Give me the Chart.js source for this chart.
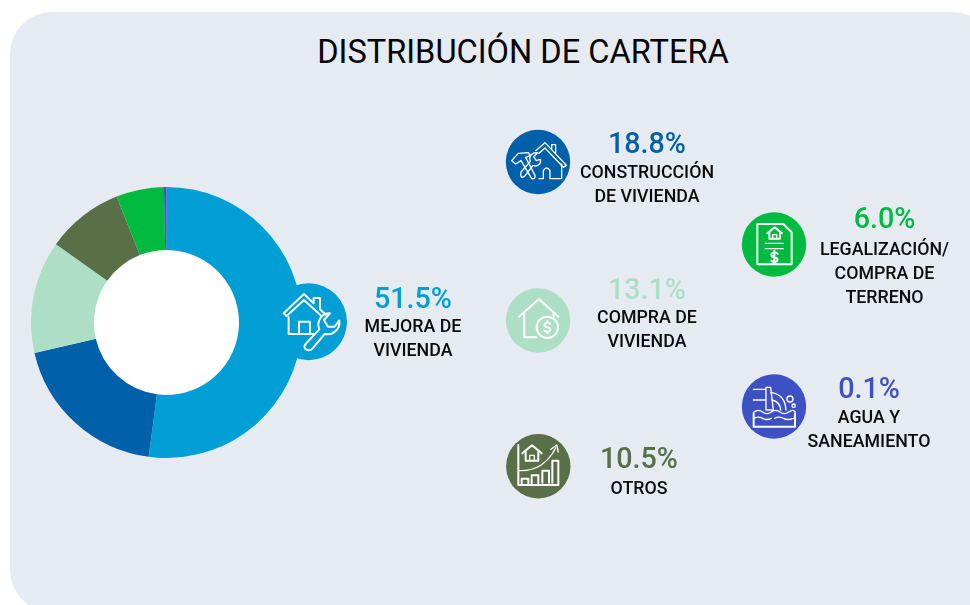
<!DOCTYPE html>
<html lang="es">
<head>
<meta charset="utf-8">
<title>Distribución de cartera</title>
<script src="https://cdn.jsdelivr.net/npm/chart.js@4"></script>
<style>
html,body{margin:0;padding:0;width:970px;height:605px;overflow:hidden;background:#fff;font-family:Roboto,sans-serif;}
#panel{position:absolute;left:10px;top:12px;width:985px;height:600px;border-radius:42px;background:#E6EBF2;}
#title{position:absolute;left:273px;width:500px;top:33px;text-align:center;font-size:32.6px;line-height:38px;font-weight:400;color:#050505;white-space:nowrap;}
#wrap{position:absolute;left:30.5px;top:187.3px;width:271px;height:271px;}
#icons{position:absolute;left:0;top:0;}
.pct,.lab{position:absolute;width:220px;text-align:center;white-space:nowrap;}
.pct{font-size:28.7px;line-height:32px;font-weight:500;}
.lab{font-size:17.8px;line-height:24px;font-weight:500;color:#0b0b0b;}
svg .l{fill:none;stroke:#fff;stroke-width:6;stroke-linejoin:round;stroke-linecap:round;}
svg .t{fill:none;stroke:#fff;stroke-width:4;stroke-linejoin:round;stroke-linecap:round;}
</style>
</head>
<body>
<div id="panel"></div>
<div id="title">DISTRIBUCIÓN DE CARTERA</div>
<div id="wrap"><canvas id="c" width="271" height="271"></canvas></div>
<svg id="icons" width="970" height="605" viewBox="0 0 970 605">
  <circle cx="308.5" cy="321.7" r="38.5" fill="#019FD6"/>
  <circle cx="538" cy="162" r="32.2" fill="#0060A9"/>
  <circle cx="538" cy="320.5" r="32.2" fill="#ACDFC6"/>
  <circle cx="538.3" cy="466.3" r="32.2" fill="#586F48"/>
  <circle cx="774" cy="244.5" r="32.2" fill="#00BB3F"/>
  <circle cx="774" cy="406.5" r="32.2" fill="#3E51C4"/>
  <!-- mejora -->
  <g transform="translate(0,170) scale(0.3333)">
    <path class="l" d="M851 430 L912 372 L941 400 V384 H960 V418 L978 434 M851 430 L860 438 L912 390 L962 436"/>
    <path class="l" d="M866 442 V492 H942 M897 492 V455 H930 V492"/>
    <path class="l" d="M917 522 L958 478 C948 452 966 430 990 430 L972 450 L984 470 L1004 470 L1018 452 C1022 476 1000 498 974 492 L938 535 C926 548 905 535 917 522 Z"/>
  </g>
  <!-- construccion -->
  <g transform="translate(495,120) scale(0.3333)">
    <path class="t" d="M122 92 L150 68 L214 136 L205 142 L150 84 L132 100 M170 88 V74 H182 V100"/>
    <path class="t" d="M200 132 V176 H165 V152 Q155 136 145 152 V176 H132"/>
    <path class="t" d="M50 122 L70 100 L100 98 L106 106 L92 112 L120 166 Q122 178 110 176 L78 122 L62 132 Z"/>
    <path class="t" d="M78 156 L106 124 C100 108 112 96 128 98 L116 110 L124 122 L136 118 C140 132 126 142 114 136 L88 170 Q74 176 78 156 Z"/>
  </g>
  <!-- compra -->
  <g transform="translate(495,120) scale(0.3333)">
    <path class="l" d="M72 590 L132 537 L190 590"/>
    <path class="l" d="M88 578 V652 H124 M176 578 V590"/>
    <circle class="l" cx="157" cy="622" r="32"/>
    <path class="l" d="M166 612 Q157 605 149 612 Q146 620 157 622 Q168 625 165 632 Q157 639 148 632 M157 604 V608 M157 636 V640"/>
  </g>
  <!-- otros -->
  <g transform="translate(495,420) scale(0.3333)">
    <path class="l" d="M70 75 V195 H190 V122 H172 V188"/>
    <path class="l" d="M82 100 L111 76 L140 100 M92 94 V122 H130 V94"/>
    <path class="t" d="M104 122 V106 H118 V122"/>
    <path class="t" d="M72 152 Q145 155 182 84 M168 88 L185 75 L190 96"/>
    <path class="l" d="M80 190 V176 H100 V190 M110 190 V166 H130 V190 M142 188 V152 H162 V188"/>
  </g>
  <!-- legalizacion -->
  <g transform="translate(730,200) scale(0.3333)">
    <path class="l" d="M82 72 H160 L185 97 V193 H82 Z"/>
    <path class="l" d="M112 100 L134 82 L156 100 M118 97 V116 H150 V97"/>
    <path class="t" d="M128 116 V104 H140 V116"/>
    <path class="t" d="M106 130 H160 M106 146 H160"/>
    <path class="l" d="M143 161 Q133 153 125 161 Q121 169 133 172 Q145 175 142 182 Q133 190 124 182 M133 152 V189"/>
  </g>
  <!-- agua -->
  <g transform="translate(730,200) scale(0.3333)">
    <path class="t" d="M70 568 H108 M70 600 H108 M108 562 H122 L130 630 H108 Z"/>
    <path class="t" d="M122 578 Q165 582 168 630 M126 600 Q150 605 152 630"/>
    <circle class="t" cx="180" cy="597" r="9"/>
    <circle class="t" cx="191" cy="617" r="5"/>
    <path class="t" d="M72 636 Q85 626 98 636 T124 636 T150 636 T176 636 T196 636"/>
    <path class="t" d="M72 655 Q85 648 98 655 T124 655 M134 655 Q147 648 160 655 T190 655"/>
    <path class="l" d="M71 640 V680 H195 V640"/>
  </g>
</svg>
<script>
const categories = ["Mejora de vivienda","Construcción de vivienda","Compra de vivienda","Otros","Legalización/compra de terreno","Agua y saneamiento"];
// Percentages as printed beside each icon.
const printedValues = [51.5, 18.8, 13.1, 10.5, 6.0, 0.1];
// Slice sizes as read from the drawn ring (they differ slightly from the printed figures).
const sliceValues = [52.1, 19.3, 13.4, 9.2, 5.7, 0.3];
const colors = ["#019FD6","#0060A9","#ACDFC6","#586F48","#00BB3F","#3E51C4"];
const labelLines = [
  ["MEJORA DE","VIVIENDA"],
  ["CONSTRUCCIÓN","DE VIVIENDA"],
  ["COMPRA DE","VIVIENDA"],
  ["OTROS"],
  ["LEGALIZACIÓN/","COMPRA DE","TERRENO"],
  ["AGUA Y","SANEAMIENTO"]
];
const textCenterX = [413, 647, 647, 639, 884.5, 869];
const pctCenterY = [298, 143, 289, 458, 218, 388];
const firstLineY = [325.5, 171.5, 316.5, 487.5, 248.5, 416.5];

function addText(cls, txt, cx, cy, color){
  const d = document.createElement('div');
  d.className = cls;
  d.textContent = txt;
  d.style.left = (cx - 110) + 'px';
  d.style.top = (cy - (cls === 'pct' ? 16 : 12)) + 'px';
  if (color) d.style.color = color;
  document.body.appendChild(d);
}
categories.forEach((_, i) => {
  addText('pct', printedValues[i].toFixed(1) + '%', textCenterX[i], pctCenterY[i], colors[i]);
  labelLines[i].forEach((ln, j) => addText('lab', ln, textCenterX[i], firstLineY[i] + j * 24.4));
});

const holeFill = {
  id: 'holeFill',
  beforeDatasetsDraw(chart){
    const a = chart.getDatasetMeta(0).data[0];
    const {ctx} = chart;
    ctx.save();
    ctx.fillStyle = '#fff';
    ctx.beginPath();
    ctx.arc(a.x, a.y, a.innerRadius + 1, 0, Math.PI * 2);
    ctx.fill();
    ctx.restore();
  }
};
new Chart(document.getElementById('c'), {
  type: 'doughnut',
  data: { labels: categories, datasets: [{ data: sliceValues, backgroundColor: colors, borderWidth: 0 }] },
  options: {
    responsive: false,
    animation: false,
    cutout: '53.5%',
    rotation: 0,
    layout: { padding: 0 },
    plugins: { legend: { display: false }, tooltip: { enabled: false } }
  },
  plugins: [holeFill]
});
</script>
</body>
</html>
